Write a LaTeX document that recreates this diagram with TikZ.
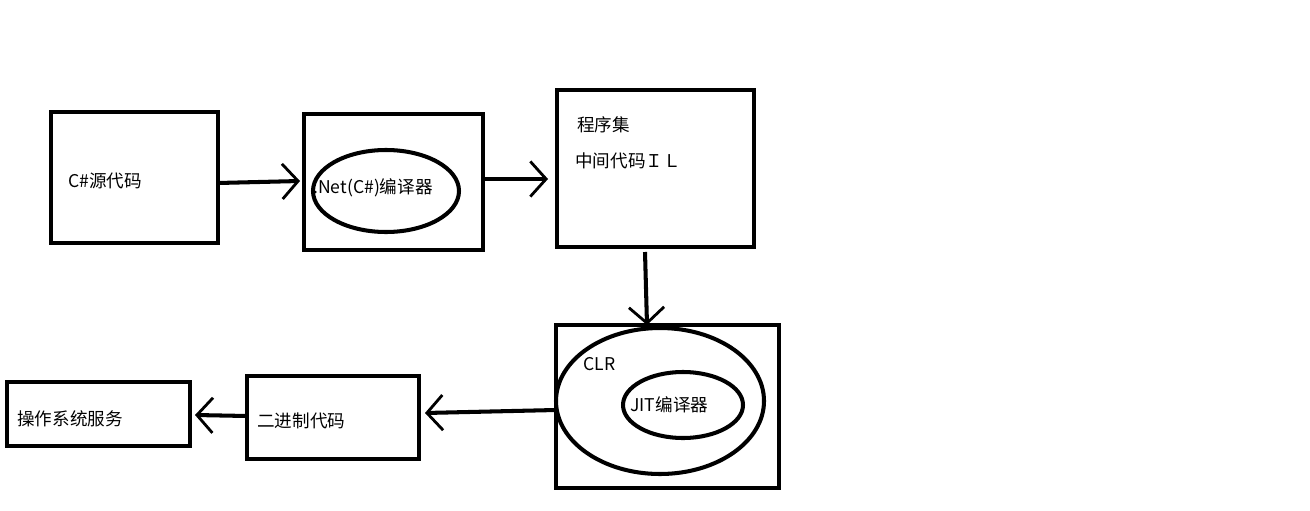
\documentclass[tikz,border=0pt]{standalone}
\usepackage{fontspec}
\setmainfont{Noto Sans CJK SC}
\usetikzlibrary{arrows.meta}
\tikzset{
  box/.style={draw, line width=2.3pt},
  oval/.style={draw, line width=2.3pt, ellipse},
  flow/.style={line width=2.3pt, -{Straight Barb[length=9pt,width=20pt,line width=1.6pt]}},
  lbl/.style={font=\fontsize{10}{12}\selectfont, anchor=west, inner sep=0pt}
}
\begin{document}
\begin{tikzpicture}[x=0.02cm, y=-0.02cm]
    \useasboundingbox (0,0) rectangle (1310,510);
    % source
    \draw[box] (51,112) rectangle (218,243);
    \node[lbl] (src) at (68,181) {C\#源代码};
    \coordinate (srcR) at (218,183);

    % compiler
    \draw[box] (304,114) rectangle (483,250);
    \draw[box] (386,191) ellipse (73 and 41);
    \node[lbl] (csc) at (313,188) {.Net(C\#)编译器};
    \coordinate (cscL) at (300,181);
    \coordinate (cscR) at (483,179);

    % assembly
    \draw[box] (557,90) rectangle (754,247);
    \node[lbl] (asm) at (577,125) {程序集};
    \node[lbl] (il) at (575,161) {中间代码ＩＬ};
    \coordinate (asmL) at (548,179);
    \coordinate (asmB) at (645,252);

    % clr
    \draw[box] (556,325) rectangle (779,488);
    \draw[box] (660,401) ellipse (104 and 73);
    \draw[box] (683,405) ellipse (60 and 33);
    \node[lbl] (clr) at (583,364) {CLR};
    \node[lbl] (jit) at (630,405) {JIT编译器};
    \coordinate (clrT) at (647,325);
    \coordinate (clrL) at (556,410);

    % binary
    \draw[box] (247,376) rectangle (419,459);
    \node[lbl] (bin) at (257,421) {二进制代码};
    \coordinate (binR) at (425,413);
    \coordinate (binL) at (247,416);

    % os
    \draw[box] (7,382) rectangle (190,446);
    \node[lbl] (os) at (17,419) {操作系统服务};
    \coordinate (osR) at (195,415);

    % arrows
    \draw[flow] (srcR) -- (cscL);
    \draw[flow] (cscR) -- (asmL);
    \draw[flow] (asmB) -- (clrT);
    \draw[flow] (clrL) -- (binR);
    \draw[flow] (binL) -- (osR);
\end{tikzpicture}
\end{document}
